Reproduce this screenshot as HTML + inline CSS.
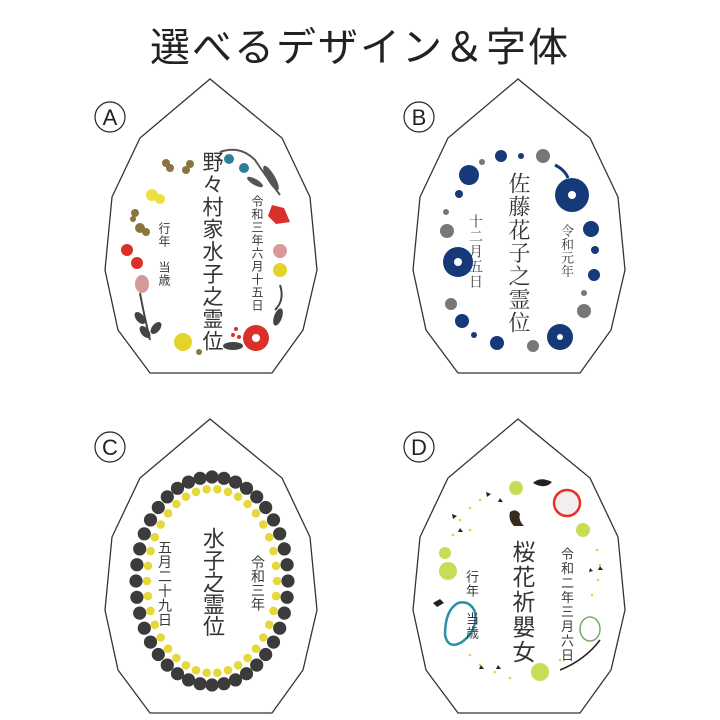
<!DOCTYPE html>
<html><head><meta charset="utf-8">
<style>
html,body{margin:0;padding:0;background:#fff;}
body{width:720px;height:720px;position:relative;overflow:hidden;font-family:"Liberation Sans","Noto Sans CJK JP",sans-serif;}
.t{position:absolute;writing-mode:vertical-rl;white-space:nowrap;color:#3a3a3a;line-height:1;}
.g{font-family:"Liberation Sans","Noto Sans CJK JP",sans-serif;}
.m{font-family:"Liberation Serif","Noto Serif CJK SC",serif;}
#title{position:absolute;left:0;width:720px;top:15px;text-align:center;font-size:40px;color:#222;letter-spacing:2px;}
</style></head><body>
<svg width="720" height="720" style="position:absolute;left:0;top:0" id="svg">
<defs>
<polygon id="egg" points="210,79 140,138 112,197 105,270 118,330 150,373 272,373 303,330 317,270 310,197 282,138" fill="#fff" stroke="#333" stroke-width="1.3"/>
</defs>
<use href="#egg"/>
<use href="#egg" transform="translate(308,0)"/>
<use href="#egg" transform="translate(0,340)"/>
<use href="#egg" transform="translate(308,340)"/>
<g fill="#fff" stroke="#222" stroke-width="1.2">
<circle cx="110" cy="117" r="15"/><circle cx="419" cy="117" r="15"/>
<circle cx="110" cy="447" r="15"/><circle cx="419" cy="447" r="15"/>
</g>
<g font-size="22" fill="#222" text-anchor="middle" font-family="Liberation Sans, sans-serif">
<text x="110" y="125">A</text><text x="419" y="125">B</text>
<text x="110" y="455">C</text><text x="419" y="455">D</text>
</g>
<!-- A decorations -->
<g>
<path d="M220,152 Q240,145 255,160 Q265,175 280,195" fill="none" stroke="#555" stroke-width="2"/>
<circle cx="229" cy="159" r="5" fill="#2d7f9a"/><circle cx="244" cy="168" r="5" fill="#2d7f9a"/>
<ellipse cx="271" cy="178" rx="4" ry="14" fill="#555" transform="rotate(-30 271 178)"/>
<ellipse cx="255" cy="182" rx="3" ry="9" fill="#555" transform="rotate(-60 255 182)"/>
<path d="M272,205 L284,208 L290,222 L276,224 L268,216Z" fill="#d9302a"/>
<circle cx="280" cy="251" r="7" fill="#d9989a"/>
<circle cx="280" cy="270" r="7" fill="#e6d32a"/>
<path d="M280,285 Q285,300 275,310" stroke="#444" stroke-width="2" fill="none"/>
<ellipse cx="278" cy="317" rx="4" ry="9" fill="#444" transform="rotate(20 278 317)"/>
<circle cx="256" cy="338" r="13" fill="#d9302a"/><circle cx="256" cy="338" r="4" fill="#fff"/>
<circle cx="236" cy="329" r="2" fill="#d9302a"/><circle cx="233" cy="335" r="2" fill="#d9302a"/><circle cx="239" cy="337" r="2" fill="#d9302a"/>
<ellipse cx="233" cy="346" rx="10" ry="4" fill="#444"/>
<circle cx="183" cy="342" r="9" fill="#e6d32a"/>
<circle cx="199" cy="352" r="3" fill="#8a7440"/>
<g fill="#8a7440"><circle cx="166" cy="163" r="4"/><circle cx="170" cy="168" r="4"/><circle cx="190" cy="164" r="4"/><circle cx="186" cy="170" r="4"/>
<circle cx="135" cy="213" r="4"/><circle cx="133" cy="219" r="3"/><circle cx="140" cy="228" r="5"/><circle cx="146" cy="232" r="4"/></g>
<circle cx="152" cy="195" r="6" fill="#ece040"/><circle cx="160" cy="199" r="5" fill="#ece040"/>
<circle cx="127" cy="250" r="6" fill="#d9302a"/><circle cx="137" cy="263" r="6" fill="#d9302a"/>
<ellipse cx="142" cy="284" rx="7" ry="9" fill="#d6999a"/>
<path d="M140,293 Q143,310 150,340" stroke="#444" stroke-width="2" fill="none"/>
<ellipse cx="140" cy="318" rx="4" ry="7" fill="#444" transform="rotate(-40 140 318)"/>
<ellipse cx="156" cy="328" rx="4" ry="7" fill="#444" transform="rotate(40 156 328)"/>
<ellipse cx="145" cy="332" rx="4" ry="7" fill="#444" transform="rotate(-40 145 332)"/>
</g>
<!-- B decorations -->
<g fill="#16397a">
<circle cx="572" cy="195" r="17"/><circle cx="458" cy="262" r="15"/><circle cx="560" cy="337" r="13"/>
<circle cx="469" cy="175" r="10"/><circle cx="591" cy="229" r="8"/><circle cx="462" cy="321" r="7"/>
<circle cx="497" cy="343" r="7"/><circle cx="501" cy="156" r="6"/><circle cx="594" cy="275" r="6"/><circle cx="595" cy="250" r="4"/>
<circle cx="459" cy="194" r="4"/><circle cx="521" cy="156" r="3"/><circle cx="474" cy="335" r="3"/>
<path d="M555,165 Q565,170 568,178" stroke="#16397a" stroke-width="3" fill="none"/>
</g>
<g fill="#fff"><circle cx="572" cy="195" r="4"/><circle cx="458" cy="262" r="4"/><circle cx="560" cy="337" r="3"/></g>
<g fill="#777"><circle cx="543" cy="156" r="7"/><circle cx="447" cy="231" r="7"/><circle cx="584" cy="311" r="7"/>
<circle cx="451" cy="304" r="6"/><circle cx="533" cy="346" r="6"/><circle cx="482" cy="162" r="3"/><circle cx="446" cy="212" r="3"/><circle cx="584" cy="293" r="3"/></g>
<!-- D decorations -->
<g>
<g fill="#c9dd54">
<circle cx="516" cy="488" r="7"/><circle cx="583" cy="530" r="7"/><circle cx="448" cy="571" r="9"/><circle cx="445" cy="553" r="6"/><circle cx="540" cy="672" r="9"/>
</g>
<g fill="#c9dd54">
<circle cx="480" cy="500" r="1.3"/><circle cx="470" cy="508" r="1.3"/><circle cx="460" cy="520" r="1.3"/><circle cx="453" cy="535" r="1.3"/><circle cx="470" cy="530" r="1.3"/>
<circle cx="597" cy="550" r="1.3"/><circle cx="600" cy="565" r="1.3"/><circle cx="598" cy="580" r="1.3"/><circle cx="592" cy="595" r="1.3"/>
<circle cx="470" cy="655" r="1.3"/><circle cx="480" cy="665" r="1.3"/><circle cx="495" cy="672" r="1.3"/><circle cx="510" cy="678" r="1.3"/><circle cx="560" cy="660" r="1.3"/>
</g>
<path d="M533,483 Q540,476 552,482 Q545,490 533,483Z" fill="#222"/>
<circle cx="567" cy="503" r="13" fill="#f2eeee" stroke="#e0332a" stroke-width="2.5"/>
<path d="M458,603 Q445,610 445,635 Q448,650 462,642 Q478,630 475,612 Q470,600 458,603Z" fill="none" stroke="#2d8ea8" stroke-width="2.5"/>
<path d="M433,603 l7,-4 l4,4 l-7,4z" fill="#222"/>
<ellipse cx="590" cy="629" rx="10" ry="12" fill="none" stroke="#7aab6a" stroke-width="1.5"/>
<path d="M560,670 Q585,660 600,640" stroke="#222" stroke-width="1.5" fill="none"/>
<g fill="#222"><path d="M486,492l5,2l-4,3z"/><path d="M500,498l3,4l-5,0z"/><path d="M452,514l5,2l-4,3z"/><path d="M460,528l3,4l-5,0z"/>
<path d="M600,566l3,4l-5,0z"/><path d="M481,665l3,4l-5,0z"/><path d="M498,665l3,4l-5,0z"/><path d="M590,568l3,3l-4,1z"/></g>
<path d="M510,512 q6,-4 10,2 q-2,6 4,12 l-10,0 q-6,-6 -4,-14z" fill="#3a2a1a"/>
</g>
<g id="beads"></g>
</svg>
<div id="title" class="g">選べるデザイン＆字体</div>

<div class="t g" style="left:201px;top:151px;font-size:21px;letter-spacing:1.4px;color:#333">野々村家水子之霊位</div>
<div class="t g" style="left:251px;top:195px;font-size:12px;letter-spacing:1px">令和三年六月十五日</div>
<div class="t g" style="left:158px;top:222px;font-size:12px;letter-spacing:1px">行年　当歳</div>

<div class="t m" style="left:507px;top:172px;font-size:22px;letter-spacing:1.2px;color:#333">佐藤花子之霊位</div>
<div class="t m" style="left:560px;top:224px;font-size:13px;letter-spacing:0.5px">令和元年</div>
<div class="t m" style="left:467px;top:214px;font-size:14px;letter-spacing:1px">十二月五日</div>

<div class="t g" style="left:201px;top:527px;font-size:22px;letter-spacing:0px;color:#333">水子之霊位</div>
<div class="t g" style="left:158px;top:540px;font-size:14px;letter-spacing:0.5px">五月二十九日</div>
<div class="t g" style="left:251px;top:555px;font-size:14px;letter-spacing:0px">令和三年</div>

<div class="t g" style="left:510px;top:540px;font-size:23px;letter-spacing:2px;color:#333">桜花祈嬰女</div>
<div class="t g" style="left:560px;top:547px;font-size:13px;letter-spacing:1.5px">令和二年三月六日</div>
<div class="t g" style="left:465px;top:570px;font-size:13px;letter-spacing:1px">行年　当歳</div>

<script>
var g=document.getElementById('beads'),s='';
function ring(cx,cy,rx,ry,n,r,col){for(var i=0;i<n;i++){var a=2*Math.PI*i/n;s+='<circle cx="'+(cx+rx*Math.cos(a)).toFixed(1)+'" cy="'+(cy+ry*Math.sin(a)).toFixed(1)+'" r="'+r+'" fill="'+col+'"/>';}}
ring(212,581,76,104,40,6.6,'#3b3b3b');
ring(212,581,65,92,38,4.3,'#e6d83a');
g.innerHTML=s;
</script>
</body></html>
